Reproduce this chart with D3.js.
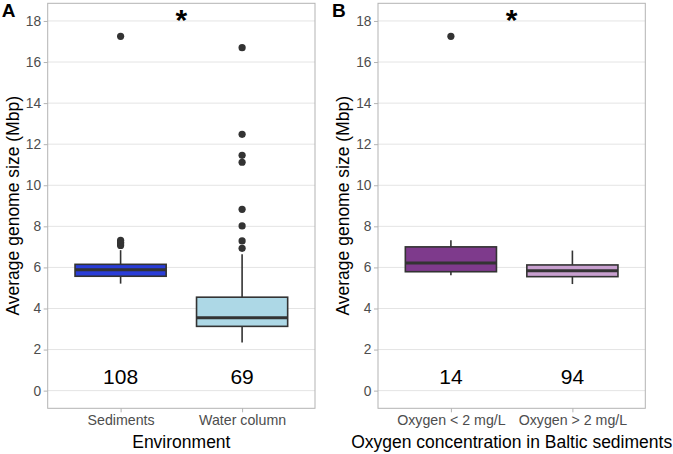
<!DOCTYPE html>
<html>
<head>
<meta charset="utf-8">
<script src="https://cdn.jsdelivr.net/npm/d3@7"></script>
<style>
  body { margin: 0; background: #fff; }
  text { font-family: "Liberation Sans", Arial, sans-serif; }
</style>
</head>
<body>
<script>
// Panel A data: environment
const envGroups = ["Sediments", "Water column"];
const envCounts = [108, 69];
// [lower whisker, q1, median, q3, upper whisker]
const envBoxes = [[5.21, 5.57, 5.89, 6.15, 6.84], [2.34, 3.13, 3.55, 4.55, 6.64]];
const envOutliers = [[7.07, 7.15, 7.22, 7.32, 17.25], [6.93, 7.29, 8.02, 8.83, 11.12, 11.46, 12.48, 16.7]];
const envFills = ["#2a3dd8", "#add8e6"];

// Panel B data: oxygen in Baltic sediments
const oxyGroups = ["Oxygen < 2 mg/L", "Oxygen > 2 mg/L"];
const oxyCounts = [14, 94];
const oxyBoxes = [[5.62, 5.79, 6.22, 7.0, 7.32], [5.19, 5.55, 5.84, 6.12, 6.82]];
const oxyOutliers = [[17.25], []];
const oxyFills = ["#7e3a8c", "#c8a0cf"];

const yTicks = [0, 2, 4, 6, 8, 10, 12, 14, 16, 18];

const width = 673, height = 454;
const plotTop = 3.3, plotBottom = 408.3;

const svg = d3.select("body").append("svg")
    .attr("width", width)
    .attr("height", height);

// shared y scale
const yScale = d3.scaleLinear()
    .domain([-0.86, 18.86])
    .range([plotBottom, plotTop]);

function drawPanel(left, right, groups, boxes, outliers, counts, fills, xTitle, tag) {
    const g = svg.append("g");

    const xScale = d3.scalePoint()
        .domain(groups)
        .range([left, right])
        .padding(0.6);
    const boxW = xScale.step() * 0.75;

    // grid lines
    g.selectAll("line.grid")
        .data(yTicks)
        .enter()
        .append("line")
        .attr("class", "grid")
        .attr("x1", left)
        .attr("x2", right)
        .attr("y1", d => yScale(d))
        .attr("y2", d => yScale(d))
        .attr("stroke", "#e4e4e4")
        .attr("stroke-width", 1);

    // y axis
    const yAxis = g.append("g")
        .attr("transform", `translate(${left},0)`)
        .call(d3.axisLeft(yScale).tickValues(yTicks).tickSize(4).tickPadding(2.5));
    yAxis.select(".domain").remove();
    yAxis.selectAll("line").attr("stroke", "#b3b3b3");
    yAxis.selectAll("text")
        .attr("fill", "#4d4d4d")
        .style("font-size", "13.8px");

    // x axis
    const xAxis = g.append("g")
        .attr("transform", `translate(0,${plotBottom})`)
        .call(d3.axisBottom(xScale).tickSize(4).tickPadding(3));
    xAxis.select(".domain").remove();
    xAxis.selectAll("line").attr("stroke", "#b3b3b3");
    xAxis.selectAll("text")
        .attr("fill", "#4d4d4d")
        .style("font-size", "14.2px");

    // boxes
    groups.forEach((grp, i) => {
        const [lo, q1, med, q3, hi] = boxes[i];
        const cx = xScale(grp);
        // whiskers
        g.append("line")
            .attr("x1", cx).attr("x2", cx)
            .attr("y1", yScale(hi)).attr("y2", yScale(q3))
            .attr("stroke", "#333").attr("stroke-width", 1.6);
        g.append("line")
            .attr("x1", cx).attr("x2", cx)
            .attr("y1", yScale(q1)).attr("y2", yScale(lo))
            .attr("stroke", "#333").attr("stroke-width", 1.6);
        g.append("rect")
            .attr("x", cx - boxW / 2)
            .attr("width", boxW)
            .attr("y", yScale(q3))
            .attr("height", yScale(q1) - yScale(q3))
            .attr("fill", fills[i])
            .attr("stroke", "#333")
            .attr("stroke-width", 1.6);
        g.append("line")
            .attr("x1", cx - boxW / 2).attr("x2", cx + boxW / 2)
            .attr("y1", yScale(med)).attr("y2", yScale(med))
            .attr("stroke", "#333").attr("stroke-width", 3);

        // outliers
        g.selectAll(null)
            .data(outliers[i])
            .enter()
            .append("circle")
            .attr("cx", cx)
            .attr("cy", d => yScale(d))
            .attr("r", 3.6)
            .attr("fill", "#333");

        // counts
        g.append("text")
            .attr("x", cx)
            .attr("y", yScale(0.33))
            .attr("text-anchor", "middle")
            .attr("fill", "#000")
            .style("font-size", "21px")
            .text(counts[i]);
    });

    // panel border
    g.append("rect")
        .attr("x", left)
        .attr("y", plotTop)
        .attr("width", right - left)
        .attr("height", plotBottom - plotTop)
        .attr("fill", "none")
        .attr("stroke", "#b3b3b3")
        .attr("stroke-width", 1);

    // significance star
    g.append("text")
        .attr("x", (left + right) / 2)
        .attr("y", yScale(18) + 9)
        .attr("text-anchor", "middle")
        .style("font-size", "30px")
        .style("font-weight", "bold")
        .text("*");

    // x title
    g.append("text")
        .attr("x", (left + right) / 2)
        .attr("y", 447.5)
        .attr("text-anchor", "middle")
        .style("font-size", "17.5px")
        .text(xTitle);

    // y title
    g.append("text")
        .attr("transform", "rotate(-90)")
        .attr("x", -(plotTop + plotBottom) / 2)
        .attr("y", left - 29)
        .attr("text-anchor", "middle")
        .style("font-size", "17.5px")
        .text("Average genome size (Mbp)");

    // panel tag
    svg.append("text")
        .attr("x", left - 46)
        .attr("y", 17)
        .style("font-size", "19px")
        .style("font-weight", "bold")
        .text(tag);
}

drawPanel(47.7, 315, envGroups, envBoxes, envOutliers, envCounts, envFills, "Environment", "A");
drawPanel(378, 645.3, oxyGroups, oxyBoxes, oxyOutliers, oxyCounts, oxyFills, "Oxygen concentration in Baltic sediments", "B");
</script>
</body>
</html>
